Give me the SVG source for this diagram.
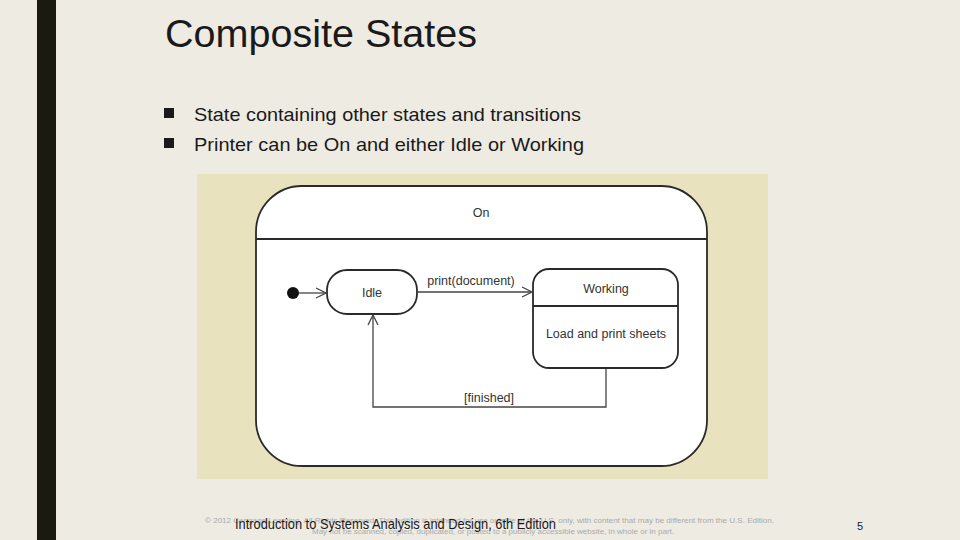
<svg xmlns="http://www.w3.org/2000/svg" width="960" height="540" viewBox="0 0 960 540">
<defs>
<style>
.t{font-family:"Liberation Sans",Arial,sans-serif;fill:#1a1a1a}
.d{font-family:"Liberation Sans",Arial,sans-serif;fill:#333;font-size:12.5px;text-anchor:middle}
.st{fill:#fff;stroke:#2a2a2a;stroke-width:1.8}
.ln{fill:none;stroke:#444;stroke-width:1.3}
</style>
<marker id="open" viewBox="0 0 12 12" refX="11" refY="6" markerWidth="12" markerHeight="12" markerUnits="userSpaceOnUse" orient="auto">
<path d="M1,1 L11,6 L1,11" fill="none" stroke="#444" stroke-width="1.3"/>
</marker>
</defs>
<rect width="960" height="540" fill="#EEEBE3"/>
<rect x="37" y="0" width="19" height="540" fill="#1B1A10"/>
<text class="t" x="165" y="47" font-size="38" textLength="312" lengthAdjust="spacingAndGlyphs">Composite States</text>
<rect x="164" y="108" width="10" height="10" fill="#1a1a1a"/>
<rect x="164" y="138" width="10" height="10" fill="#1a1a1a"/>
<text class="t" x="194" y="121" font-size="19" textLength="387" lengthAdjust="spacingAndGlyphs">State containing other states and transitions</text>
<text class="t" x="194" y="151" font-size="19" textLength="390" lengthAdjust="spacingAndGlyphs">Printer can be On and either Idle or Working</text>
<rect x="197" y="174" width="571" height="305" fill="#E8E2BF"/>
<g id="on">
<rect class="st" x="256" y="186" width="451" height="280" rx="46" ry="46"/>
<line x1="256" y1="239" x2="707" y2="239" stroke="#2a2a2a" stroke-width="1.8"/>
<text class="d" x="481" y="217">On</text>
</g>
<g id="initial">
<circle cx="293" cy="293" r="6" fill="#111"/>
</g>
<g id="idle">
<rect class="st" x="327" y="270" width="90" height="44" rx="20" ry="20"/>
<text class="d" x="372" y="297">Idle</text>
</g>
<g id="working">
<rect class="st" x="533" y="269" width="145" height="99" rx="16" ry="16"/>
<line x1="533" y1="306" x2="678" y2="306" stroke="#2a2a2a" stroke-width="1.8"/>
<text class="d" x="606" y="293">Working</text>
<text class="d" x="606" y="338">Load and print sheets</text>
</g>
<g id="connectors">
<line class="ln" x1="299" y1="293" x2="326" y2="293" marker-end="url(#open)"/>
<line class="ln" x1="418" y1="292" x2="532" y2="292" marker-end="url(#open)"/>
<text class="d" x="471" y="285">print(document)</text>
<polyline class="ln" points="606,369 606,407 373,407 373,315" marker-end="url(#open)"/>
<text class="d" x="489" y="402">[finished]</text>
</g>
<text font-family="'Liberation Sans',Arial,sans-serif" font-size="7" fill="#aaa" x="205" y="523" textLength="569" lengthAdjust="spacingAndGlyphs">© 2012 Cengage Learning. All Rights Reserved. This edition is intended for use outside of the U.S. only, with content that may be different from the U.S. Edition.</text>
<text font-family="'Liberation Sans',Arial,sans-serif" font-size="7" fill="#aaa" x="312" y="534" textLength="362" lengthAdjust="spacingAndGlyphs">May not be scanned, copied, duplicated, or posted to a publicly accessible website, in whole or in part.</text>
<text font-family="'Liberation Sans',Arial,sans-serif" font-size="15" fill="#1a1a1a" x="235" y="529" textLength="321" lengthAdjust="spacingAndGlyphs">Introduction to Systems Analysis and Design, 6th Edition</text>
<text font-family="'Liberation Sans',Arial,sans-serif" font-size="11" fill="#1a1a1a" x="857" y="530">5</text>
</svg>
